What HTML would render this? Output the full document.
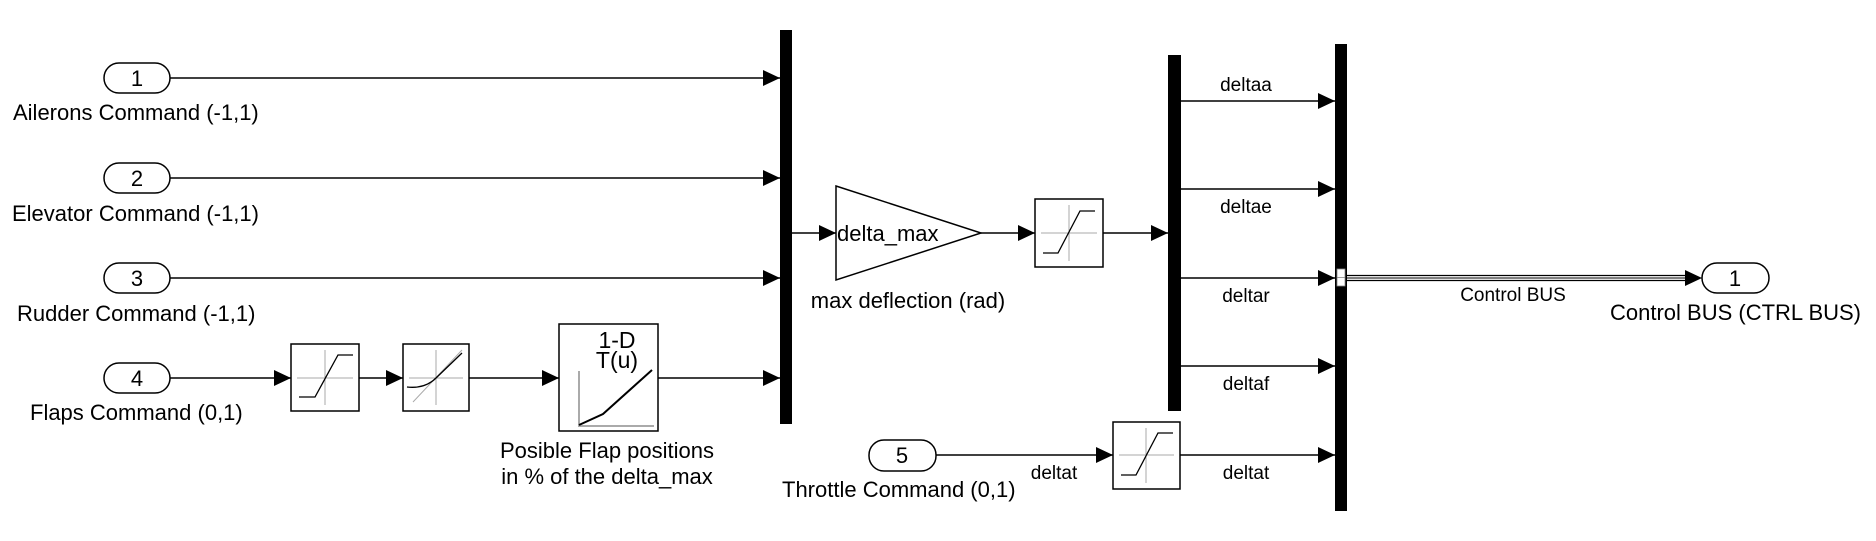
<!DOCTYPE html>
<html><head><meta charset="utf-8"><style>
html,body{margin:0;padding:0;background:#fff;}
svg{display:block;font-family:"Liberation Sans",Arial,sans-serif;}
</style></head><body>
<svg width="1876" height="541" viewBox="0 0 1876 541" xmlns="http://www.w3.org/2000/svg">
<defs>
<marker id="a" markerWidth="17" markerHeight="16" refX="17" refY="8" orient="auto" markerUnits="userSpaceOnUse"><path d="M0,0 L17,8 L0,16 Z" fill="#000"/></marker>
</defs>
<g fill="none" stroke="#000" stroke-width="1.5">
<rect x="104" y="63" width="66" height="30" rx="15"/>
<rect x="104" y="163" width="66" height="30" rx="15"/>
<rect x="104" y="263" width="66" height="30" rx="15"/>
<rect x="104" y="363" width="66" height="30" rx="15"/>
<rect x="869" y="440" width="67" height="31" rx="15"/>
<rect x="1702" y="263" width="67" height="30" rx="15"/>
<path d="M170,78 H780" marker-end="url(#a)"/>
<path d="M170,178 H780" marker-end="url(#a)"/>
<path d="M170,278 H780" marker-end="url(#a)"/>
<path d="M170,378 H291" marker-end="url(#a)"/>
<path d="M359,378 H403" marker-end="url(#a)"/>
<path d="M469,378 H559" marker-end="url(#a)"/>
<path d="M658,378 H780" marker-end="url(#a)"/>
<rect x="291" y="344" width="68" height="67"/>
<rect x="403" y="344" width="66" height="67"/>
<rect x="559" y="324" width="99" height="107"/>
<path d="M792,233 H836" marker-end="url(#a)"/>
<path d="M836,186 L981,233 L836,280 Z"/>
<path d="M981,233 H1035" marker-end="url(#a)"/>
<rect x="1035" y="199" width="68" height="68"/>
<path d="M1103,233 H1168" marker-end="url(#a)"/>
<path d="M1181,101 H1335" marker-end="url(#a)"/>
<path d="M1181,189 H1335" marker-end="url(#a)"/>
<path d="M1181,278 H1335" marker-end="url(#a)"/>
<path d="M1181,366 H1335" marker-end="url(#a)"/>
<path d="M936,455 H1113" marker-end="url(#a)"/>
<rect x="1113" y="422" width="67" height="67"/>
<path d="M1180,455 H1335" marker-end="url(#a)"/>
<path d="M1347,275.5 H1690 M1347,280.5 H1690" stroke-width="1.2"/>
<path d="M1347,278 H1702" stroke-width="1" marker-end="url(#a)"/>
</g>
<rect x="780" y="30" width="12" height="394" fill="#000"/>
<rect x="1168" y="55" width="13" height="356" fill="#000"/>
<rect x="1335" y="44" width="12" height="467" fill="#000"/>
<rect x="1337" y="269" width="8" height="17" fill="#fff" stroke="#888" stroke-width="0.8"/>
<line x1="1337" y1="277.5" x2="1345" y2="277.5" stroke="#888" stroke-width="0.8"/>
<g stroke="#aaa" stroke-width="1" fill="none">
<path d="M297,378 H353 M325,350 V405"/>
<path d="M409,378 H463 M436,350 V405 M413,402 L462,350"/>
<path d="M1041,233 H1097 M1069,205 V261"/>
<path d="M1119,455 H1174 M1146,428 V483"/>
<path d="M579,371 V426 H654" stroke-width="2"/>
</g>
<g stroke="#000" stroke-width="1.3" fill="none">
<path d="M299,397 H315 L338,355 H353"/>
<path d="M407,387 Q425,389 436,378 L462,353"/>
<path d="M1043,253 H1058 L1080,211 H1095"/>
<path d="M1121,475 H1136 L1158,433 H1173"/>
<path d="M579,425 L603,414 L652,370" stroke-width="2"/>
</g>
<g font-size="22" fill="#000">
<g text-anchor="middle">
<text x="137" y="86">1</text>
<text x="137" y="186">2</text>
<text x="137" y="286">3</text>
<text x="137" y="386">4</text>
<text x="902" y="463">5</text>
<text x="1735" y="286">1</text>
<text x="617" y="348" font-size="23">1-D</text>
<text x="617" y="368" font-size="23">T(u)</text>
<text x="607" y="458">Posible Flap positions</text>
<text x="607" y="484">in % of the delta_max</text>
<text x="908" y="308">max deflection (rad)</text>
</g>
<text x="13" y="120">Ailerons Command (-1,1)</text>
<text x="12" y="221">Elevator Command (-1,1)</text>
<text x="17" y="321">Rudder Command (-1,1)</text>
<text x="30" y="420">Flaps Command (0,1)</text>
<text x="782" y="497">Throttle Command (0,1)</text>
<text x="837" y="241">delta_max</text>
<text x="1610" y="320">Control BUS (CTRL BUS)</text>
</g>
<g font-size="19" fill="#000" text-anchor="middle">
<text x="1246" y="91">deltaa</text>
<text x="1246" y="213">deltae</text>
<text x="1246" y="302">deltar</text>
<text x="1246" y="390">deltaf</text>
<text x="1246" y="479">deltat</text>
<text x="1054" y="479">deltat</text>
<text x="1513" y="301">Control BUS</text>
</g>
</svg>
</body></html>
